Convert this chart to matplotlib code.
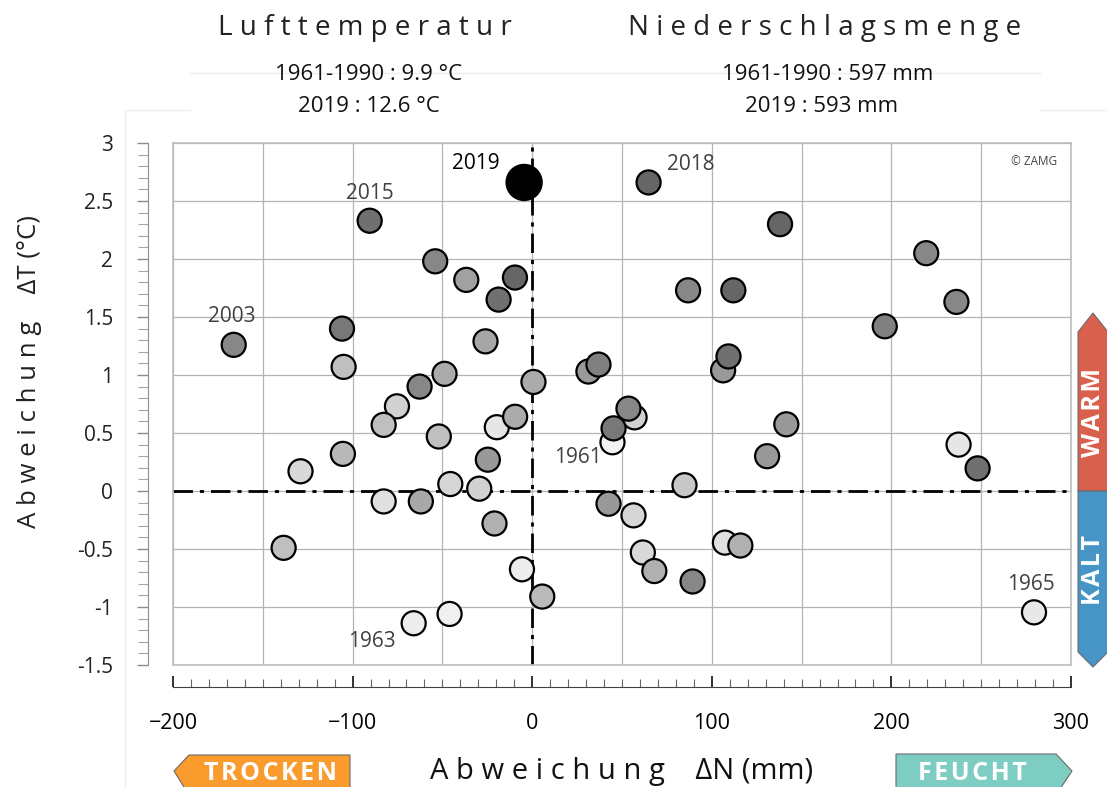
import numpy as np
import matplotlib.pyplot as plt
from matplotlib.patches import Polygon
from matplotlib.lines import Line2D
from matplotlib.ticker import MultipleLocator

# Abweichung Niederschlag (mm) / Lufttemperatur (°C) gegenueber 1961-1990
dN = [-4.5, 64.8, -90.5, -166.2, 138, 219.4, 236.2, 196.3, 86.8, 112,
      -54, -36.7, -9.6, -18.7, -105.9, -26, -105, -62.7, -48.8, 0.7,
      -75.3, -82.7, -52, -19.7, -9.5, -24.7, -105.4, -129, -82.7, -62,
      -45.6, -29.5, -21, -138.4, -5.7, 5.6, -46, -66, 44.7, 45.3,
      31.3, 36.9, 53.6, 57, 109.3, 106.3, 141.5, 130.8, 237.4, 248,
      84.8, 107.3, 115.9, 89.3, 279.4, 42.5, 56.4, 61.6, 68]
dT = [2.66, 2.66, 2.33, 1.26, 2.30, 2.05, 1.63, 1.42, 1.73, 1.73,
      1.98, 1.82, 1.84, 1.65, 1.40, 1.29, 1.07, 0.90, 1.01, 0.94,
      0.73, 0.57, 0.47, 0.55, 0.64, 0.27, 0.32, 0.17, -0.09, -0.09,
      0.06, 0.02, -0.28, -0.49, -0.675, -0.91, -1.06, -1.14, 0.42, 0.54,
      1.03, 1.09, 0.71, 0.635, 1.16, 1.04, 0.575, 0.30, 0.40, 0.195,
      0.05, -0.445, -0.47, -0.78, -1.046, -0.11, -0.21, -0.53, -0.69]
# Grauwert der Punkte (hell = frueh, dunkel = spaet)
shade = [0.0, 0.40, 0.44, 0.53, 0.40, 0.53, 0.53, 0.50, 0.53, 0.40,
         0.53, 0.63, 0.40, 0.44, 0.47, 0.65, 0.75, 0.53, 0.67, 0.67,
         0.82, 0.75, 0.75, 0.90, 0.67, 0.60, 0.72, 0.85, 0.88, 0.66,
         0.84, 0.82, 0.69, 0.75, 0.93, 0.73, 0.94, 0.93, 0.95, 0.47,
         0.60, 0.50, 0.53, 0.82, 0.44, 0.60, 0.60, 0.60, 0.90, 0.44,
         0.78, 0.88, 0.69, 0.53, 0.91, 0.60, 0.84, 0.85, 0.69]
year_labels = ['2019', '2018', '2015', '2003', '1961', '1963', '1965']
year_index = [0, 1, 2, 3, 38, 37, 54]
label_offset = [(-48, 19), (42, 18), (0, 27), (-2, 28), (-35, -15), (-42, -18), (-3, 28)]

W, H = 1107, 787
def fx(px):
    return px / W
def fy(py):
    return 1 - py / H

fig = plt.figure(figsize=(W / 100, H / 100), dpi=100)
fig.patch.set_facecolor('white')

left, right, top, bottom = 173, 1071, 143, 665
ax = fig.add_axes([fx(left), fy(bottom), (right - left) / W, (bottom - top) / H])
ax.set_xlim(-200, 300)
ax.set_ylim(-1.5, 3)
ax.set_xticks(np.arange(-200, 301, 50))
ax.set_yticks(np.arange(-1.5, 3.01, 0.5))
ax.tick_params(length=0, labelbottom=False, labelleft=False)
ax.grid(True, color='#b4b4b4', lw=0.9)
ax.set_axisbelow(True)
for s in ax.spines.values():
    s.set_color('#bdbdbd')
    s.set_linewidth(1.2)
ax.axhline(0, color='black', lw=2, ls=(0, (7, 2.5, 1.5, 2.5)), zorder=1.5)
ax.axvline(0, color='black', lw=2, ls=(0, (7, 2.5, 1.5, 2.5)), zorder=1.5)

x = np.array(dN)
y = np.array(dT)
g = np.array(shade)
sizes = np.full(len(x), 300.0)
sizes[0] = 640
order = np.argsort(-g, kind='stable')
ax.scatter(x[order], y[order], s=sizes[order], c=[str(v) for v in g[order]],
           edgecolors='black', linewidths=1.6, zorder=3)

for lab, i, off in zip(year_labels, year_index, label_offset):
    ax.annotate(lab, (x[i], y[i]), xytext=off, textcoords='offset pixels',
                ha='center', va='center', fontsize=15, family='Open Sans',
                color='black' if lab == '2019' else '#404040', zorder=4)

ax.text(0.985, 0.965, '© ZAMG', transform=ax.transAxes, ha='right', va='center',
        fontsize=8.5, color='#444444', family='Open Sans')

# separate y-Achse links
ay = fig.add_axes([fx(148), fy(bottom), 0.0005, (bottom - top) / H])
ay.set_ylim(-1.5, 3)
ay.patch.set_visible(False)
for k in ['top', 'right', 'bottom']:
    ay.spines[k].set_visible(False)
ay.spines['left'].set_color('#8c8c8c')
ay.set_xticks([])
ay.yaxis.set_major_locator(MultipleLocator(0.5))
ay.yaxis.set_minor_locator(MultipleLocator(0.1))
ay.tick_params(axis='y', which='major', direction='out', length=8, width=1,
               color='#8c8c8c', pad=17, labelsize=15)
ay.tick_params(axis='y', which='minor', direction='out', length=7, width=0.8,
               color='#a6a6a6')
ay.set_yticks(np.arange(-1.5, 3.01, 0.5))
ay.set_yticklabels(['-1.5', '-1', '-0.5', '0', '0.5', '1', '1.5', '2', '2.5', '3'],
                   family='Open Sans', color='#222222')

# separate x-Achse unten
axx = fig.add_axes([fx(left), fy(687), (right - left) / W, 0.0005])
axx.set_xlim(-200, 300)
axx.patch.set_visible(False)
for k in ['top', 'right', 'left']:
    axx.spines[k].set_visible(False)
axx.spines['bottom'].set_color('#404040')
axx.set_yticks([])
axx.xaxis.set_major_locator(MultipleLocator(100))
axx.xaxis.set_minor_locator(MultipleLocator(10))
axx.tick_params(axis='x', which='major', direction='in', length=8, width=1.3,
                color='#222222', pad=19, labelsize=15.5)
axx.tick_params(axis='x', which='minor', direction='in', length=6, width=0.8,
                color='#666666')
for t in axx.get_xticklabels():
    t.set_family('Open Sans')

# Achsentitel
fig.text(fx(30), fy(372), 'A b w e i c h u n g    ΔT (°C)', rotation=90,
         ha='center', va='center', fontsize=18.5, family='Open Sans', color='#222222')
fig.text(fx(622), fy(772), 'A b w e i c h u n g    ΔN (mm)', ha='center', va='center',
         fontsize=21, family='Open Sans', color='#111111')

# Kopf
fig.text(fx(365), fy(28), 'L u f t t e m p e r a t u r', ha='center', va='center',
         fontsize=20, family='Open Sans', color='#222222')
fig.text(fx(825), fy(28), 'N i e d e r s c h l a g s m e n g e', ha='center', va='center',
         fontsize=20, family='Open Sans', color='#222222')
sub = dict(ha='center', va='center', fontsize=16, family='Open Sans', color='#111111')
fig.text(fx(369), fy(75), '1961-1990 : 9.9 °C', **sub)
fig.text(fx(369), fy(107), '2019 : 12.6 °C', **sub)
fig.text(fx(828), fy(75), '1961-1990 : 597 mm', **sub)
fig.text(fx(822), fy(107), '2019 : 593 mm', **sub)

# feine Hilfslinien
for (x0, y0, x1, y1) in [(190, 73, 1040, 73), (125, 110, 190, 110),
                         (1040, 110, 1107, 110), (125, 110, 125, 787)]:
    fig.add_artist(Line2D([fx(x0), fx(x1)], [fy(y0), fy(y1)], color='#eeeeee',
                          lw=1, transform=fig.transFigure))

def arrow(pts, color, label, tx, ty, rot=0, size=17):
    poly = Polygon([(fx(a), fy(b)) for a, b in pts], closed=True, facecolor=color,
                   edgecolor='#6a6a6a', lw=0.8, transform=fig.transFigure)
    fig.add_artist(poly)
    fig.text(fx(tx), fy(ty), '\u200a'.join(label), rotation=rot, ha='center', va='center',
             fontsize=size, fontweight='bold', color='white',
             family=['Open Sans', 'DejaVu Sans'])

arrow([(1078, 491), (1078, 332), (1093, 313), (1108, 332), (1108, 491)],
      '#d9604c', 'WARM', 1094, 412, rot=90, size=18)
arrow([(1078, 491), (1078, 652), (1093, 667), (1108, 652), (1108, 491)],
      '#4695c6', 'KALT', 1094, 570, rot=90, size=18)
arrow([(174, 771), (189, 755), (350, 755), (350, 795), (189, 795)],
      '#f99b2d', 'TROCKEN', 271, 773, size=18)
arrow([(896, 754), (1056, 754), (1072, 771), (1056, 795), (896, 795)],
      '#7dcdc2', 'FEUCHT', 972, 773, size=18)

fig.savefig('out.png', dpi=100)
